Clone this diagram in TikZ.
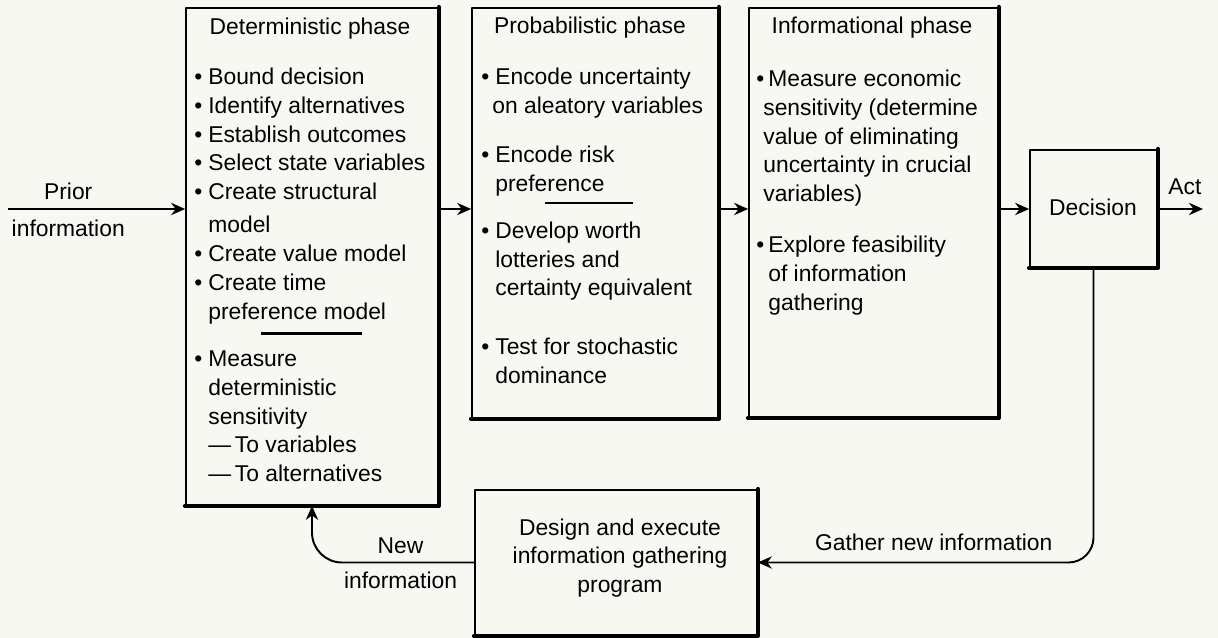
\documentclass[tikz,border=0pt]{standalone}
\usepackage{fontspec}
\setmainfont{Liberation Sans}
\usetikzlibrary{arrows.meta}
\definecolor{paper}{HTML}{F8F8F3}
\newcommand{\bul}[1][0.28cm]{\makebox[#1][l]{\textbullet}}
\newcommand{\ind}[1][0.28cm]{\hspace*{#1}}
\newcommand{\sepline}[3]{\makebox[0pt][l]{\hspace*{#2}\rule[#1]{#3}{1.3pt}}}
\begin{document}
\begin{tikzpicture}[x=0.02cm,y=-0.02cm,line join=round,
    phase/.style={draw,line width=1pt,inner sep=0pt},
    txt/.style={inner sep=0pt,font=\fontsize{13}{16.4}\selectfont},
    list/.style={txt,anchor=north west,align=left},
    arr/.style={line width=1.1pt,-{Stealth[length=8pt,width=7pt]}}]
\fill[paper] (0,0) rectangle (1218,638);
\useasboundingbox (0,0) rectangle (1218,638);
% the boxes
\node[phase,minimum width=5.04cm,minimum height=9.94cm] (det) at (312,256.5) {};
\node[phase,minimum width=4.92cm,minimum height=8.2cm] (prob) at (595,213) {};
\node[phase,minimum width=4.98cm,minimum height=8.18cm] (info) at (873.5,212.5) {};
\node[phase,minimum width=2.54cm,minimum height=2.34cm] (dec) at (1093.5,208.5) {};
\node[phase,minimum width=5.64cm,minimum height=2.9cm] (prog) at (616,562.5) {};
\foreach \b in {det,prob,info,dec,prog}
    \draw[line width=2.6pt,line cap=round] (\b.south west) -- (\b.south east) -- (\b.north east);
% texts
\node[txt] (dettitle) at (310,29) {Deterministic phase};
\node[txt] (probtitle) at (590,28) {Probabilistic phase};
\node[txt] (infotitle) at (872,28) {Informational phase};
\node[list] (detlist) at (194,67.6) {\bul Bound decision\\
    \bul Identify alternatives\\
    \bul Establish outcomes\\
    \bul Select state variables\\
    \bul Create structural\\[2.5pt]
    \ind model\\
    \bul Create value model\\
    \bul Create time\\
    \ind preference model\\
    \sepline{7.8pt}{1.34cm}{2.02cm}\\[-6pt]
    \bul Measure\\
    \ind deterministic\\
    \ind sensitivity\\
    \ind\textemdash\,To variables\\
    \ind\textemdash\,To alternatives};
\node[list] (problist) at (481,67.6) {\bul Encode uncertainty\\
    \ind[0.22cm]on aleatory variables\\[11.5pt]
    \bul Encode risk\\
    \ind preference\\
    \sepline{8.8pt}{1.28cm}{1.76cm}\\[-6pt]
    \bul Develop worth\\
    \ind lotteries and\\
    \ind certainty equivalent\\[17.2pt]
    \bul Test for stochastic\\
    \ind dominance};
\node[list] (infolist) at (756,69.6) {\bul[0.24cm]Measure economic\\
    \ind[0.14cm]sensitivity (determine\\
    \ind[0.14cm]value of eliminating\\
    \ind[0.14cm]uncertainty in crucial\\
    \ind[0.14cm]variables)\\[12.6pt]
    \bul[0.24cm]Explore feasibility\\
    \ind[0.24cm]of information\\
    \ind[0.24cm]gathering};
\node[txt] (dectext) at (1093,207) {Decision};
\node[txt,align=center] (progtext) at (620,558) {Design and execute\\information gathering\\program};
% connectors
\coordinate (src) at (8,209);
\coordinate (act) at (1203,209);
\draw[arr] (src) -- node[txt,pos=0.34,above=4.5pt] (lprior) {Prior}
    node[txt,pos=0.34,below=5.5pt] (lprior2) {information} (det.west |- src);
\draw[arr] (det.east |- src) -- (prob.west |- src);
\draw[arr] (prob.east |- src) -- (info.west |- src);
\draw[arr] (info.east |- src) -- (dec.west |- src);
\draw[arr] (dec.east |- src) -- node[txt,pos=0.6,above=7.3pt] (lact) {Act} (act);
\draw[arr,rounded corners=0.5cm] (dec.south) |- node[txt,pos=0.738,above=6.2pt] (lgather) {Gather new information} (prog.east);
\draw[arr,rounded corners=0.6cm] (prog.west) -| node[txt,pos=0.227,above=4.5pt] (lnew) {New}
    node[txt,pos=0.227,below=5pt] (lnew2) {information} (det.south);
\end{tikzpicture}
\end{document}
